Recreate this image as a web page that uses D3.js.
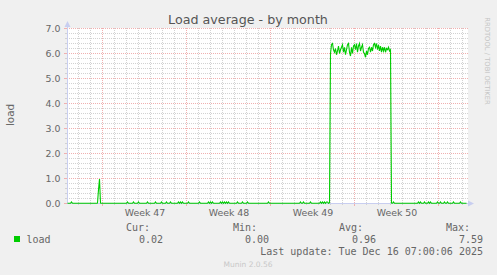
<!DOCTYPE html>
<html>
<head>
<meta charset="utf-8">
<script src="https://cdn.jsdelivr.net/npm/d3@7"></script>
<style>
  html, body { margin: 0; padding: 0; background: #f0f0f0; }
  svg { display: block; }
</style>
</head>
<body>
<svg id="chart" width="497" height="275"></svg>
<script>
// ---------- data ----------
const chartTitle = "Load average - by month";
const yAxisLabel = "load";
const seriesName = "load";
const seriesColor = "#00cc00";
const yTicks = [0, 1, 2, 3, 4, 5, 6, 7];
const weekStarts = ["2025-11-17", "2025-11-24", "2025-12-01", "2025-12-08"];
const weekLabels = ["Week 47", "Week 48", "Week 49", "Week 50"];
const rangeStart = "2025-11-14T02:00:00Z";
const rangeEnd = "2025-12-17T12:00:00Z";
const sampleStepHours = 2;
const statLabels = ["Cur:", "Min:", "Avg:", "Max:"];
const statValues = [0.02, 0.00, 0.96, 7.59];
const lastUpdate = "Last update: Tue Dec 16 07:00:06 2025";
const footer = "Munin 2.0.56";
const watermark = "RRDTOOL / TOBI OETIKER";

// one value per 2-hour sample
const loadValues = [
  0.01,0.01,0.01,0.01,0.06,0.01,0.01,0.01,0.01,0.01,0.01,0.01,0.01,0.01,0.01,0.01,0.01,0.01,0.01,0.01,
  0.01,0.01,0.01,0.01,0.01,0.01,0.01,0.01,0.01,0.01,0.02,0.55,0.98,0.02,0.01,0.01,0.01,0.01,0.01,0.01,
  0.01,0.01,0.01,0.01,0.01,0.01,0.01,0.01,0.01,0.01,0.01,0.01,0.01,0.01,0.01,0.01,0.01,0.01,0.01,0.01,
  0.06,0.01,0.01,0.01,0.01,0.01,0.06,0.01,0.01,0.01,0.01,0.06,0.01,0.01,0.01,0.01,0.01,0.01,0.01,0.01,
  0.06,0.01,0.01,0.01,0.01,0.01,0.01,0.01,0.06,0.01,0.01,0.01,0.01,0.01,0.06,0.01,0.01,0.01,0.01,0.06,
  0.01,0.01,0.01,0.06,0.01,0.01,0.01,0.01,0.01,0.01,0.01,0.06,0.01,0.06,0.01,0.06,0.01,0.01,0.01,0.01,
  0.01,0.06,0.01,0.01,0.01,0.01,0.01,0.01,0.01,0.01,0.01,0.01,0.06,0.01,0.01,0.01,0.01,0.01,0.01,0.01,
  0.01,0.06,0.01,0.06,0.01,0.06,0.01,0.01,0.01,0.01,0.01,0.01,0.01,0.06,0.01,0.06,0.01,0.06,0.01,0.06,
  0.01,0.06,0.01,0.01,0.01,0.01,0.01,0.01,0.01,0.01,0.06,0.01,0.01,0.01,0.01,0.06,0.01,0.01,0.01,0.01,
  0.06,0.01,0.01,0.01,0.01,0.01,0.01,0.01,0.01,0.01,0.01,0.01,0.01,0.01,0.01,0.01,0.01,0.01,0.01,0.01,
  0.01,0.06,0.01,0.01,0.01,0.01,0.01,0.01,0.01,0.01,0.01,0.01,0.01,0.01,0.01,0.01,0.01,0.01,0.01,0.01,
  0.01,0.01,0.01,0.01,0.01,0.01,0.01,0.01,0.01,0.01,0.01,0.01,0.01,0.06,0.01,0.01,0.06,0.01,0.01,0.01,
  0.01,0.01,0.01,0.06,0.01,0.01,0.01,0.01,0.01,0.01,0.01,0.01,0.01,0.06,0.01,0.06,0.01,0.06,0.01,0.06,
  0.06,0.01,0.03,6.00,6.35,6.40,6.15,6.05,6.20,5.95,6.10,6.30,6.00,6.15,6.25,6.35,6.05,6.25,5.95,6.15,
  6.35,6.40,6.05,5.90,6.25,6.00,6.30,6.35,6.15,6.40,6.05,6.30,6.40,6.10,6.25,6.35,6.05,6.00,5.85,6.10,
  5.95,6.20,6.25,6.05,6.25,6.10,6.35,6.40,6.25,6.40,6.15,6.35,6.10,6.30,6.05,6.25,6.10,6.25,6.05,6.20,
  6.15,6.25,6.10,6.15,0.02,0.01,0.06,0.01,0.01,0.01,0.01,0.01,0.01,0.01,0.01,0.01,0.01,0.01,0.01,0.01,
  0.01,0.01,0.01,0.01,0.01,0.01,0.01,0.01,0.01,0.01,0.01,0.06,0.01,0.06,0.01,0.01,0.01,0.06,0.01,0.01,
  0.01,0.06,0.01,0.06,0.01,0.01,0.01,0.01,0.01,0.01,0.06,0.01,0.01,0.06,0.01,0.01,0.01,0.06,0.01,0.01,
  0.06,0.01,0.01,0.01,0.01,0.01,0.06,0.01,0.01,0.01,0.01,0.01,0.01,0.06,0.01,0.01,0.01,0.01,0.01,0.01
];

// ---------- layout ----------
const plot = { left: 67, right: 468, top: 28, bottom: 203 };
const sansFont = "'DejaVu Sans', sans-serif";
const monoFont = "'DejaVu Sans Mono', monospace";
const textColor = "#666666";
const axisColor = "#c8cef0";
const minorGridColor = "#d2d2d2";
const majorGridColor = "#f0b0b0";

const svg = d3.select("#chart");
svg.append("rect").attr("width", 497).attr("height", 275).attr("fill", "#f0f0f0");

const t0 = new Date(rangeStart), t1 = new Date(rangeEnd);
const x = d3.scaleUtc().domain([t0, t1]).range([plot.left + 0.5, plot.right + 0.5]);
const y = d3.scaleLinear().domain([0, 7]).range([plot.bottom + 0.5, plot.top + 0.5]);
const crisp = v => Math.floor(v) + 0.5;

const data = loadValues.map((v, i) => ({
  t: new Date(t0.getTime() + i * sampleStepHours * 3600e3),
  v
}));

// canvas
svg.append("rect")
  .attr("x", plot.left).attr("y", plot.top)
  .attr("width", plot.right - plot.left).attr("height", plot.bottom - plot.top)
  .attr("fill", "#ffffff");

const grid = svg.append("g").attr("shape-rendering", "crispEdges");

// minor horizontal grid (every 0.2)
const yMinor = d3.range(1, 35).map(k => k * 0.2).filter(v => Math.abs(v - Math.round(v)) > 1e-6);
yMinor.forEach(v => {
  const yy = crisp(y(v));
  grid.append("line").attr("x1", plot.left).attr("x2", plot.right).attr("y1", yy).attr("y2", yy)
    .attr("stroke", minorGridColor).attr("stroke-dasharray", "1,1");
  grid.append("line").attr("x1", plot.left - 2).attr("x2", plot.left).attr("y1", yy).attr("y2", yy)
    .attr("stroke", minorGridColor);
});
// minor vertical grid (days)
const days = d3.utcDay.range(t0, t1);
const mondaysAll = d3.utcMonday.range(t0, t1).map(d => +d);
days.filter(d => !mondaysAll.includes(+d)).forEach(d => {
  const xx = crisp(x(d));
  grid.append("line").attr("x1", xx).attr("x2", xx).attr("y1", plot.top).attr("y2", plot.bottom)
    .attr("stroke", minorGridColor).attr("stroke-dasharray", "1,1");
  grid.append("line").attr("x1", xx).attr("x2", xx).attr("y1", plot.bottom).attr("y2", plot.bottom + 2)
    .attr("stroke", minorGridColor);
});
// major horizontal grid
yTicks.filter(v => v > 0).forEach(v => {
  const yy = crisp(y(v));
  grid.append("line").attr("x1", plot.left).attr("x2", plot.right).attr("y1", yy).attr("y2", yy)
    .attr("stroke", majorGridColor).attr("stroke-dasharray", "1,1");
});
yTicks.forEach(v => {
  const yy = crisp(y(v));
  grid.append("line").attr("x1", plot.left - 3).attr("x2", plot.left).attr("y1", yy).attr("y2", yy)
    .attr("stroke", majorGridColor);
});
// major vertical grid (weeks)
mondaysAll.forEach(d => {
  const xx = crisp(x(new Date(d)));
  grid.append("line").attr("x1", xx).attr("x2", xx).attr("y1", plot.top).attr("y2", plot.bottom)
    .attr("stroke", majorGridColor).attr("stroke-dasharray", "1,1");
  grid.append("line").attr("x1", xx).attr("x2", xx).attr("y1", plot.bottom).attr("y2", plot.bottom + 3)
    .attr("stroke", majorGridColor);
});

// axes lines
const axes = svg.append("g").attr("shape-rendering", "crispEdges");
axes.append("line").attr("x1", plot.left + 0.5).attr("x2", plot.left + 0.5)
  .attr("y1", plot.bottom + 1).attr("y2", plot.top - 4).attr("stroke", axisColor);
axes.append("line").attr("x1", plot.left).attr("x2", plot.right + 1)
  .attr("y1", plot.bottom + 0.5).attr("y2", plot.bottom + 0.5).attr("stroke", axisColor);
// arrows
svg.append("path")
  .attr("d", `M${plot.left + 0.5},${plot.top - 7} L${plot.left + 3.5},${plot.top - 1} L${plot.left - 2.5},${plot.top - 1} Z`)
  .attr("fill", axisColor);
svg.append("path")
  .attr("d", `M${plot.right + 6},${plot.bottom + 0.5} L${plot.right},${plot.bottom + 3.5} L${plot.right},${plot.bottom - 2.5} Z`)
  .attr("fill", axisColor);

// series line
const line = d3.line().x(d => x(d.t)).y(d => y(d.v));
svg.append("path").datum(data)
  .attr("d", line)
  .attr("fill", "none")
  .attr("stroke", seriesColor)
  .attr("stroke-width", 1.1);

// y axis labels
const yAxis = d3.axisLeft(y).tickValues(yTicks).tickFormat(d3.format(".1f")).tickSize(0).tickPadding(6.5);
const yg = svg.append("g").attr("transform", `translate(${plot.left},0)`).call(yAxis);
yg.select(".domain").remove();
yg.selectAll("text").attr("font-family", sansFont).attr("font-size", "9.4px").attr("fill", textColor);

// x axis labels (week mid-points)
const weekMids = weekStarts.map(s => new Date(new Date(s + "T00:00:00Z").getTime() + 3.5 * 86400e3));
const xAxis = d3.axisBottom(x).tickValues(weekMids)
  .tickFormat((d, i) => weekLabels[i]).tickSize(0).tickPadding(6.5);
const xg = svg.append("g").attr("transform", `translate(0,${plot.bottom})`).call(xAxis);
xg.select(".domain").remove();
xg.selectAll("text").attr("font-family", sansFont).attr("font-size", "9.4px").attr("fill", textColor);

// title
svg.append("text").attr("x", 248).attr("y", 24).attr("text-anchor", "middle")
  .attr("font-family", sansFont).attr("font-size", "12.7px").attr("fill", "#555555")
  .text(chartTitle);

// y label
svg.append("text").attr("transform", "translate(13.5,115) rotate(-90)").attr("text-anchor", "middle")
  .attr("font-family", sansFont).attr("font-size", "10.4px").attr("fill", textColor)
  .text(yAxisLabel);

// watermark
svg.append("text").attr("transform", "translate(485,61) rotate(90)").attr("text-anchor", "middle")
  .attr("font-family", sansFont).attr("font-size", "6.8px").attr("fill", "#c4c4c4")
  .text(watermark);

// legend
const legend = svg.append("g").attr("font-family", monoFont).attr("font-size", "10px").attr("fill", textColor);
const statHeadEnds = [150, 257, 363, 470];
const statValEnds = [163, 269, 376, 483];
statLabels.forEach((s, i) => {
  legend.append("text").attr("x", statHeadEnds[i]).attr("y", 231).attr("text-anchor", "end").text(s);
  legend.append("text").attr("x", statValEnds[i]).attr("y", 242.5).attr("text-anchor", "end")
    .text(d3.format(".2f")(statValues[i]));
});
svg.append("rect").attr("x", 14).attr("y", 236).attr("width", 6).attr("height", 6).attr("fill", seriesColor);
legend.append("text").attr("x", 26.5).attr("y", 242.5).text(seriesName);
legend.append("text").attr("x", 483).attr("y", 255).attr("text-anchor", "end").text(lastUpdate);

svg.append("text").attr("x", 248).attr("y", 266.5).attr("text-anchor", "middle")
  .attr("font-family", sansFont).attr("font-size", "7.5px").attr("fill", "#c8c8c8")
  .text(footer);
</script>
</body>
</html>
